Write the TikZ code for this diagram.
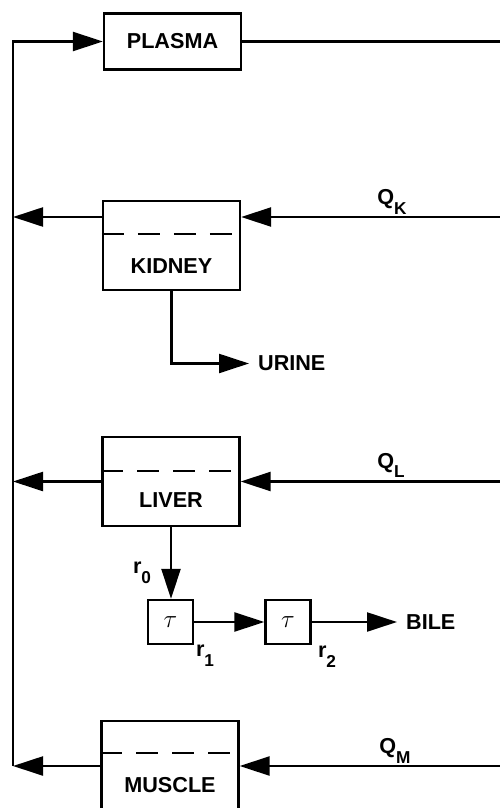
\documentclass[tikz,border=0pt]{standalone}
\usepackage{fontspec}
\setmainfont{Liberation Sans}
\usetikzlibrary{arrows.meta}
\tikzset{
	flow/.style= {-{Triangle[length= 0.6cm, width= 0.38cm]}},
	organ/.style= {draw, minimum width= 2.74cm, inner sep= 0pt},
	delaybox/.style= {draw, minimum width= 0.9cm, minimum height= 0.88cm, inner sep= 0pt},
	lbl/.style= {font= \fontsize{12.3}{14}\selectfont\bfseries, inner sep= 0pt},
	septum/.style= {dash pattern= on 0.44cm off 0.28cm},
}
\newcommand{\lowsub}[2]{#1\raisebox{-0.85ex}{\fontsize{9.8}{10}\selectfont #2}}

\begin{document}
\begin{tikzpicture}[line width= 1.3pt]
\useasboundingbox (0, 0) rectangle (10, -16.16);
\clip (0, 0) rectangle (10, -16.16);
% 血漿
	\node[organ, lbl, minimum height= 1.12cm] (plasma) at (3.45, -0.83) {PLASMA};
	\coordinate (pout) at (10, -0.83);
	\draw (plasma) -- (pout); %右端へ
% 腎臓
	\node[organ, minimum height= 1.79cm] (kidney) at (3.43, -4.91) {};
	\node[lbl] (kidneyt) at (3.43, -5.32) {KIDNEY};
	\draw[septum] (kidney.west |- 0, -4.68) -- (kidney.east |- 0, -4.68);
	\coordinate (qk) at (10, -4.34);
	\coordinate (bk) at (0.26, -4.34);
	\draw[flow] (qk) -- (kidney.east |- qk);
	\draw[flow] (kidney.west |- qk) -- (bk);
	\node[lbl] (qklbl) at (7.84, -4.04) {\lowsub{Q}{K}};
	\node[lbl, anchor= west, inner sep= 0.16cm] (urine) at (4.98, -7.27) {URINE};
	\draw[flow] (kidney.south) |- (urine.west);
% 肝臓
	\node[organ, minimum height= 1.78cm] (liver) at (3.42, -9.63) {};
	\node[lbl] (livert) at (3.42, -10.0) {LIVER};
	\draw[septum] (liver.west |- 0, -9.42) -- (liver.east |- 0, -9.42);
	\coordinate (ql) at (10, -9.63);
	\coordinate (bl) at (0.26, -9.63);
	\draw[flow] (ql) -- (liver.east);
	\draw[flow] (liver.west) -- (bl);
	\node[lbl] (qllbl) at (7.82, -9.31) {\lowsub{Q}{L}};
% 胆汁
	\node[delaybox, font= \fontsize{15}{16}\selectfont] (tau1) at (3.41, -12.44) {$\tau$};
	\node[delaybox, font= \fontsize{15}{16}\selectfont] (tau2) at (5.76, -12.44) {$\tau$};
	\node[lbl, anchor= west, inner sep= 0.16cm] (bile) at (7.94, -12.44) {BILE};
	\draw[flow] (liver.south) -- (liver.south |- tau1.north);
	\draw[flow] (tau1) -- (tau2);
	\draw[flow] (tau2) -- (bile);
	\node[lbl] (r0) at (2.84, -11.46) {\lowsub{r}{0}};
	\node[lbl] (r1) at (4.1, -13.12) {\lowsub{r}{1}};
	\node[lbl] (r2) at (6.54, -13.14) {\lowsub{r}{2}};
% 筋肉
	\node[organ, minimum height= 2.0cm, anchor= north] (muscle) at (3.40, -14.4) {};
	\node[lbl] (musclet) at (3.40, -15.7) {MUSCLE};
	\draw[septum] (muscle.west |- 0, -15.06) -- (muscle.east |- 0, -15.06);
	\coordinate (qm) at (10, -15.32);
	\coordinate (bm) at (0.26, -15.32);
	\draw[flow] (qm) -- (muscle.east |- qm);
	\draw[flow] (muscle.west |- qm) -- (bm);
	\node[lbl] (qmlbl) at (7.9, -15.02) {\lowsub{Q}{M}};
% 左の戻り線
	\draw[flow] (bm) |- (plasma.west);
\end{tikzpicture}
\end{document}
